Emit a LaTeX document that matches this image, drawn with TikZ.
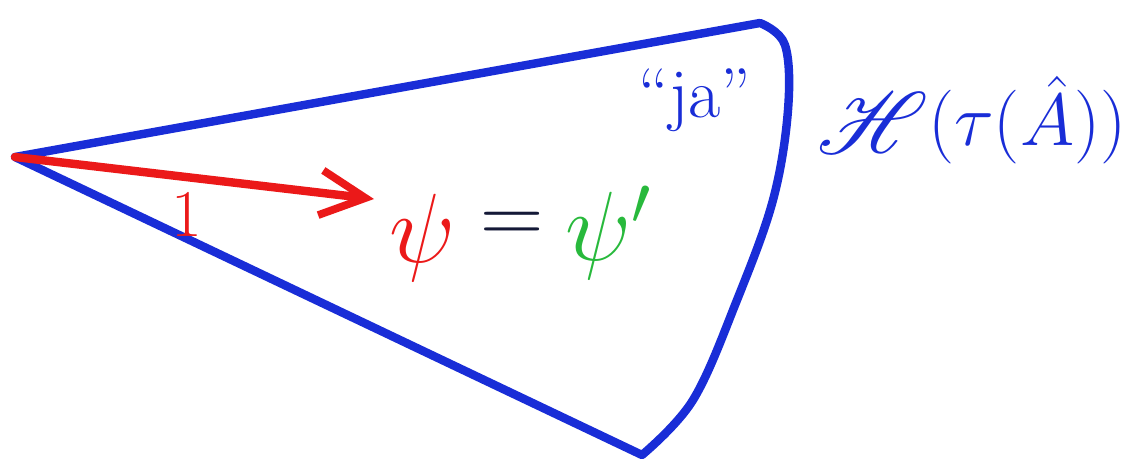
\RequirePackage{fix-cm}
\documentclass[tikz,border=0pt]{standalone}
\usepackage{amsmath}
\usepackage{mathrsfs}
\usepackage{graphicx}
\usepackage{xcolor}
\usetikzlibrary{arrows.meta}

\definecolor{penblue}{RGB}{25,45,215}
\definecolor{penred}{RGB}{235,25,25}
\definecolor{pengreen}{RGB}{40,185,60}
\definecolor{penink}{RGB}{20,25,55}

\tikzset{
  rim/.style={draw=penblue, line width=4.8pt, line join=round, line cap=round},
  vec/.style={draw=penred, line width=4.8pt, line cap=round,
    -{Straight Barb[length=9mm,width=9mm,line width=4.4pt]}},
}

\begin{document}
\begin{tikzpicture}[x=0.02cm,y=-0.02cm]
\useasboundingbox (0,0) rectangle (1137,458);
%
\coordinate (A) at (15,157);
\coordinate (T) at (760,23);
\coordinate (B) at (642,455);
\coordinate (H) at (374,199);
%
\draw [rim] (B) -- (A) -- (T)
  plot [smooth, tension=0.6] coordinates {(760,23) (785,45) (788,110) (773,200) (737,300) (693,400) (642,455)};
\draw [vec] (A) -- (H);
%
\node (one) at (187,215) [text=penred] {\fontsize{38}{40}\selectfont $1$};
\node (psi) at (423,238) [text=penred] {\fontsize{56}{60}\selectfont $\psi$};
\node (eq) at (512,228) [text=penink] {\fontsize{50}{60}\selectfont $=$};
\node (psip) at (608,233) [text=pengreen] {\fontsize{56}{60}\selectfont $\psi'$};
\node (ja) at (695,100) [text=penblue] {\fontsize{40}{44}\selectfont ``ja''};
\node (space) at (972,120) [text=penblue] {\fontsize{42}{48}\selectfont \raisebox{-0.1em}{\scalebox{2}{$\mathscr{H}$}}$(\tau(\hat{A}))$};
\end{tikzpicture}
\end{document}
